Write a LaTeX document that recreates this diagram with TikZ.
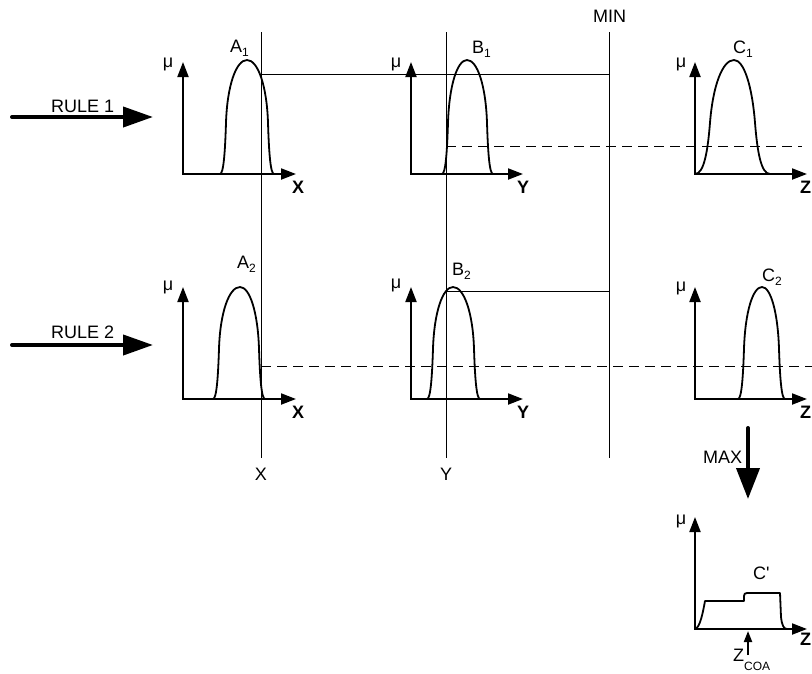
\documentclass[tikz,border=0pt]{standalone}
\usepackage{fontspec}
\setmainfont{Liberation Sans}
\usetikzlibrary{arrows.meta}
\newcommand\lsub[1]{\raisebox{-4pt}{\fontsize{12}{12}\selectfont #1}}
\newcommand\bellcurve[6]{% xs xp xe yp yb f
  \pgfmathsetmacro\bellH{#5-#4}
  \draw[curve] (#1,#5) .. controls ({#1+0.6*#6},#5) and ({#1+0.85*#6},{#5-0.2*\bellH}) .. ({#1+#6},{#5-0.45*\bellH})
    .. controls ({#1+1.195*#6},{#5-0.775*\bellH}) and ({#2-0.55*(#2-#1-1.2*#6)},#4) .. (#2,#4)
    .. controls ({#2+0.55*(#3-#2-1.2*#6)},#4) and ({#3-1.195*#6},{#5-0.775*\bellH}) .. ({#3-#6},{#5-0.45*\bellH})
    .. controls ({#3-0.85*#6},{#5-0.2*\bellH}) and ({#3-0.6*#6},#5) .. (#3,#5);
}
\begin{document}
\begin{tikzpicture}[x=1pt,y=-1pt,
  axis/.style={line width=2pt,line join=miter,
    {Triangle[length=15pt,width=11pt]}-{Triangle[length=15pt,width=11pt]}},
  curve/.style={line width=1.8pt,line join=round},
  guide/.style={line width=1pt},
  dashline/.style={line width=1pt,dash pattern=on 10pt off 6pt},
  bigarrow/.style={line width=4pt,line cap=round,-{Triangle[length=30pt,width=20pt]}},
  lbl/.style={font=\fontsize{18}{20}\selectfont,inner sep=0pt,anchor=base west},
  axlbl/.style={font=\fontsize{18}{20}\selectfont\bfseries,inner sep=0pt,anchor=base west},
  mu/.style={font=\fontsize{18}{20}\selectfont,inner sep=0pt}
]
\useasboundingbox (0,0) rectangle (812,673);

% ---- guide lines ----
\coordinate (xtop) at (261,32); \coordinate (xbot) at (261,458);
\coordinate (ytop) at (446,32); \coordinate (ybot) at (446,458);
\coordinate (mtop) at (609,32); \coordinate (mbot) at (609,458);
\draw[guide] (xtop) -- (xbot);
\draw[guide] (ytop) -- (ybot);
\draw[guide] (mtop) -- (mbot);
\coordinate (h1a) at (261,74);  \coordinate (h1b) at (609,74);
\coordinate (h2a) at (446,291); \coordinate (h2b) at (609,291);
\draw[guide] (h1a) -- (h1b);
\draw[guide] (h2a) -- (h2b);
\coordinate (d1a) at (446,146); \coordinate (d1b) at (802,146);
\coordinate (d2a) at (261,366); \coordinate (d2b) at (812,366);
\draw[dashline] (d1a) -- (d1b);
\draw[dashline] (d2a) -- (d2b);

% ---- axes ----
\draw[axis] (183,62) -- (183,174) -- (296,174);
\draw[axis] (411,62) -- (411,174) -- (523,174);
\draw[axis] (695,62) -- (695,174) -- (807,174);
\draw[axis] (183,287) -- (183,399) -- (296,399);
\draw[axis] (411,287) -- (411,399) -- (523,399);
\draw[axis] (695,287) -- (695,399) -- (807,399);
\draw[axis] (695,517) -- (695,629) -- (807,629);

% ---- membership curves ----
\bellcurve{220}{247}{274}{60}{174}{6}
\bellcurve{442}{467}{493}{60}{174}{6}
\bellcurve{695}{734}{770}{60}{174}{15}
\bellcurve{213}{240}{265}{287}{399}{6}
\bellcurve{427}{453}{480}{287}{399}{6}
\bellcurve{738}{762}{785}{287}{399}{6}
\draw[curve] (695,629) .. controls (700,628) and (703,612) .. (705,601) -- (744,601) -- (744,596)
  .. controls (744,594) and (745,593) .. (747,593) -- (780,593) -- (781,617)
  .. controls (782,626) and (784,629) .. (787,629);

% ---- big arrows ----
\coordinate (r1s) at (12,117); \coordinate (r1e) at (153,117);
\coordinate (r2s) at (12,345); \coordinate (r2e) at (153,345);
\draw[bigarrow] (r1s) -- (r1e);
\draw[bigarrow] (r2s) -- (r2e);
\coordinate (maxs) at (748,428); \coordinate (maxe) at (748,499);
\draw[line width=4pt,line cap=round,-{Triangle[length=31pt,width=23pt]}] (maxs) -- (maxe);
\coordinate (zcs) at (748,655); \coordinate (zce) at (748,631);
\draw[line width=2pt,-{Triangle[length=11pt,width=8pt]}] (zcs) -- (zce);

% ---- labels ----
\node[lbl] (rule1) at (51,112) {RULE 1};
\node[lbl] (rule2) at (51,338) {RULE 2};
\node[lbl] (min) at (593,22) {MIN};
\node[lbl] (max) at (703,463) {MAX};
\node[lbl,anchor=base] (xl) at (261,480) {X};
\node[lbl,anchor=base] (yl) at (446,480) {Y};

\node[lbl] (a1) at (230,52) {A\lsub{1}};
\node[lbl] (b1) at (472,53) {B\lsub{1}};
\node[lbl] (c1) at (733,53) {C\lsub{1}};
\node[lbl] (a2) at (237,268) {A\lsub{2}};
\node[lbl] (b2) at (452,275) {B\lsub{2}};
\node[lbl] (c2) at (762,281) {C\lsub{2}};
\node[lbl] (cp) at (753,579) {C\textquotesingle};
\node[lbl] (zcoa) at (733,661) {Z\raisebox{-9pt}{\fontsize{12}{12}\selectfont COA}};

\node[mu] (mu1) at (168,64) {μ};
\node[mu] (mu2) at (396,64) {μ};
\node[mu] (mu3) at (681,64) {μ};
\node[mu] (mu4) at (168,287) {μ};
\node[mu] (mu5) at (396,285) {μ};
\node[mu] (mu6) at (681,288) {μ};
\node[mu] (mu7) at (681,521) {μ};

\node[axlbl] (ax1) at (292,193) {X};
\node[axlbl] (ay1) at (517,193) {Y};
\node[axlbl] (az1) at (800,193) {Z};
\node[axlbl] (ax2) at (292,418) {X};
\node[axlbl] (ay2) at (517,418) {Y};
\node[axlbl] (az2) at (800,418) {Z};
\node[axlbl] (az3) at (800,645) {Z};
\end{tikzpicture}
\end{document}
